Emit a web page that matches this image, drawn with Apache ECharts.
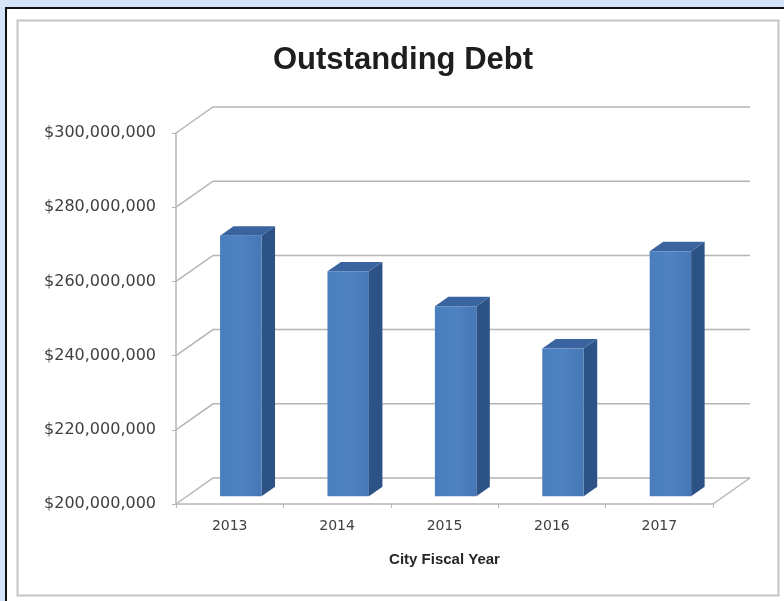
<!DOCTYPE html>
<html>
<head>
<meta charset="utf-8">
<script src="https://cdn.jsdelivr.net/npm/echarts@6/dist/echarts.min.js"></script>
<style>
  html, body { margin: 0; padding: 0; background: #d5e3f9; }
  #chart { width: 784px; height: 601px; }
</style>
</head>
<body>
<div id="chart"></div>
<script>
// Outstanding debt by city fiscal year
const categories = ['2013', '2014', '2015', '2016', '2017'];
const debtValues = [270200000, 260600000, 251200000, 239800000, 266000000];
const gridValues = [200000000, 220000000, 240000000, 260000000, 280000000, 300000000];
const yMin = 200000000;
const yMax = 300000000;
const yStep = 20000000;

// 3D look: how far the back wall sits from the front plane (pixels)
const DEPTH_X = 37;
const DEPTH_Y = 26;
// where the columns sit inside the depth (0 = front, 1 = back)
const FRONT_F = 0.3;
const BACK_F = 0.665;
const BAR_RATIO = 0.386;

const WALL_COLOR = '#b5b5b5';
const SIDE_COLOR = '#2d5286';
const TOP_COLOR = '#3a64a0';

function renderWall(params, api) {
  const v = api.value(1);
  const p = api.coord([0, v]);
  const cs = params.coordSys;
  const left = cs.x, right = cs.x + cs.width;
  const y = p[1];
  const children = [{
    type: 'polyline',
    shape: { points: [[left, y], [left + DEPTH_X, y - DEPTH_Y], [right + DEPTH_X, y - DEPTH_Y]] },
    style: { stroke: WALL_COLOR, lineWidth: 1.5, fill: null }
  }];
  if (v === yMin) {
    children.push({
      type: 'line',
      shape: { x1: right, y1: y, x2: right + DEPTH_X, y2: y - DEPTH_Y },
      style: { stroke: WALL_COLOR, lineWidth: 1.5 }
    });
  }
  return { type: 'group', children: children };
}

function renderBar(params, api) {
  const i = api.value(0), v = api.value(1);
  const top = api.coord([i, v]);
  const base = api.coord([i, yMin]);
  const band = api.size([1, 0])[0];
  const w = band * BAR_RATIO;
  const fx = DEPTH_X * FRONT_F, fy = DEPTH_Y * FRONT_F;
  const bx = DEPTH_X * (BACK_F - FRONT_F), by = DEPTH_Y * (BACK_F - FRONT_F);
  const xl = top[0] - w / 2 + fx, xr = xl + w;
  const yt = top[1] - fy, yb = base[1] - fy;
  return {
    type: 'group',
    children: [
      { type: 'polygon', shape: { points: [[xr, yt], [xr + bx, yt - by], [xr + bx, yb - by], [xr, yb]] },
        style: { fill: SIDE_COLOR } },
      { type: 'polygon', shape: { points: [[xl, yt], [xl + bx, yt - by], [xr + bx, yt - by], [xr, yt]] },
        style: { fill: TOP_COLOR } },
      { type: 'rect', shape: { x: xl, y: yt, width: w, height: yb - yt },
        style: { fill: new echarts.graphic.LinearGradient(0, 0, 1, 0, [
          { offset: 0, color: '#4a7dbd' },
          { offset: 0.5, color: '#4f82c1' },
          { offset: 1, color: '#4677b6' }
        ]) } }
    ]
  };
}

const chart = echarts.init(document.getElementById('chart'), null, { renderer: 'canvas' });
chart.setOption({
  backgroundColor: 'transparent',
  animation: false,
  graphic: [
    { type: 'rect', z: -10, shape: { x: 6, y: 8, width: 800, height: 620 },
      style: { fill: '#ffffff', stroke: '#111111', lineWidth: 2 } },
    { type: 'rect', z: -9, shape: { x: 17.5, y: 20.5, width: 761, height: 575 },
      style: { fill: '#ffffff', stroke: '#c4c4c4', lineWidth: 2 } }
  ],
  title: {
    text: 'Outstanding Debt',
    left: 268,
    top: 40,
    textStyle: { fontFamily: 'Liberation Sans', fontWeight: 'bold', fontSize: 31, color: '#1e1e1e' }
  },
  grid: { left: 176, top: 133, width: 537, height: 371 },
  xAxis: {
    type: 'category',
    data: categories,
    boundaryGap: true,
    axisLine: { lineStyle: { color: WALL_COLOR, width: 1.5 } },
    axisTick: { show: true, length: 4, lineStyle: { color: WALL_COLOR } },
    axisLabel: { margin: 15, fontFamily: 'DejaVu Sans', fontSize: 14, color: '#404040' },
    name: 'City Fiscal Year',
    nameLocation: 'middle',
    nameGap: 48,
    nameTextStyle: { fontFamily: 'Liberation Sans', fontWeight: 'bold', fontSize: 15, color: '#262626' }
  },
  yAxis: {
    type: 'value',
    min: yMin,
    max: yMax,
    interval: yStep,
    axisLine: { show: true, lineStyle: { color: WALL_COLOR, width: 1.5 } },
    axisTick: { show: true, length: 4, lineStyle: { color: WALL_COLOR } },
    splitLine: { show: false },
    axisLabel: {
      margin: 20,
      fontFamily: 'DejaVu Sans',
      fontSize: 16,
      color: '#404040',
      formatter: v => '$' + v.toLocaleString('en-US')
    }
  },
  series: [
    {
      type: 'custom',
      z: 1,
      renderItem: renderWall,
      data: gridValues.map(v => [0, v]),
      silent: true
    },
    {
      type: 'custom',
      z: 5,
      renderItem: renderBar,
      data: debtValues.map((v, i) => [i, v])
    }
  ]
});
</script>
</body>
</html>
